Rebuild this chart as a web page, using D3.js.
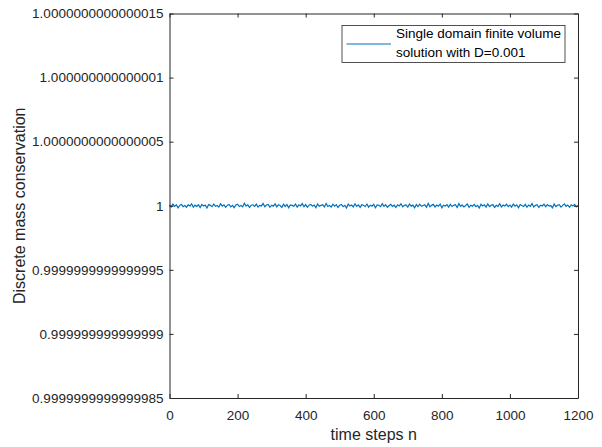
<!DOCTYPE html>
<html>
<head>
<meta charset="utf-8">
<script src="https://cdn.jsdelivr.net/npm/d3@7"></script>
<style>
  body { margin: 0; background: #fff; }
  svg { display: block; font-family: "Liberation Sans", Arial, Helvetica, sans-serif; }
</style>
</head>
<body>
<div id="chart"></div>
<script>
// time steps 0..1200 every 5 steps
const stepStart = 0;
const stepEvery = 5;
// deviation of discrete mass from 1, in units of 1.5e-17
const devUnit = 1.5e-17;
const massDev = [
  0.4,-0.6,0.9,-0.3,0.5,-1.1,0.2,0.8,-0.5,0.1,
  -0.8,0.6,-0.2,1.0,-0.7,0.3,-0.4,0.5,-0.9,0.7,
  -0.1,0.4,-1.2,0.6,0.2,-0.5,0.9,-0.3,0.1,-0.7,
  1.1,-0.2,0.5,-0.8,0.3,0.7,-0.6,0.2,-1.0,0.4,
  0.8,-0.4,0.1,-0.6,1.3,-0.2,0.6,-0.9,0.3,0.5,
  -0.3,0.9,-0.7,0.2,-0.1,1.2,-0.5,0.4,0.7,-0.8,
  0.3,-0.2,1.0,-0.6,0.5,0.1,-0.9,0.8,-0.4,0.6,
  -1.1,0.4,0.2,-0.3,0.9,-0.7,0.5,-0.1,1.1,-0.5,
  0.6,-0.8,0.3,0.7,-0.2,0.4,-1.0,0.9,-0.3,0.2,
  0.5,-0.6,1.2,-0.4,0.1,-0.7,0.8,-0.2,0.6,-0.9,
  0.3,0.7,-0.5,0.2,-1.2,0.9,-0.1,0.4,-0.6,1.0,
  -0.3,0.5,-0.8,0.6,0.1,-0.4,0.9,-0.7,0.3,-0.2,
  0.8,-1.0,0.4,0.2,-0.5,1.1,-0.3,0.6,-0.8,0.1,
  0.7,-0.4,0.3,-0.9,0.5,-0.1,1.0,-0.6,0.2,0.4,
  -0.7,0.9,-0.2,0.3,-1.1,0.6,-0.4,0.8,-0.3,0.1,
  0.5,-0.8,1.2,-0.5,0.2,0.7,-0.6,0.4,-0.2,0.9,
  -1.0,0.3,-0.1,0.6,-0.7,0.8,-0.4,0.2,0.5,-0.9,
  1.1,-0.3,0.4,-0.6,0.1,0.9,-0.8,0.3,-0.2,0.7,
  -0.5,0.2,-1.2,0.8,-0.1,0.5,-0.7,1.0,-0.4,0.3,
  0.6,-0.9,0.2,-0.3,1.1,-0.6,0.4,-0.1,0.8,-0.5,
  0.3,-0.7,0.9,-0.2,0.5,-1.0,0.6,0.1,-0.4,0.7,
  -0.8,0.4,-0.3,1.2,-0.6,0.2,0.5,-0.9,0.3,-0.1,
  0.8,-0.5,0.6,-0.2,0.1,-1.1,0.9,-0.4,0.3,0.6,
  -0.7,0.2,1.0,-0.3,0.4,-0.8,0.5,-0.1,0.7,-0.6,
  0.2
];

const xTicks = [0, 200, 400, 600, 800, 1000, 1200];
const yTickDevs = [-1.5e-15, -1e-15, -0.5e-15, 0, 0.5e-15, 1e-15, 1.5e-15];
const yTickLabels = ['0.9999999999999985', '0.999999999999999', '0.9999999999999995', '1',
                     '1.0000000000000005', '1.000000000000001', '1.0000000000000015'];
const seriesName = ['Single domain finite volume', 'solution with D=0.001'];

const width = 602, height = 447;
const plotLeft = 169.5, plotRight = 578, plotTop = 13.5, plotBottom = 398;
const axisColor = '#262626';
const lineColor = '#0072BD';

const data = massDev.map((d, i) => ({n: stepStart + i * stepEvery, dev: d * devUnit}));

const xScale = d3.scaleLinear().domain([0, 1200]).range([plotLeft, plotRight]);
const yScale = d3.scaleLinear().domain([-1.5e-15, 1.5e-15]).range([plotBottom, plotTop]);

const svg = d3.select('#chart').append('svg')
    .attr('width', width)
    .attr('height', height);

svg.append('rect').attr('width', width).attr('height', height).attr('fill', '#fff');

// the series
const line = d3.line().x(d => xScale(d.n)).y(d => yScale(d.dev));
svg.append('path')
    .datum(data)
    .attr('fill', 'none')
    .attr('stroke', lineColor)
    .attr('stroke-width', 1.2)
    .attr('d', line);

// axes (ticks inward, box on)
function styleAxis(g) {
  g.select('.domain').attr('stroke', axisColor);
  g.selectAll('.tick line').attr('stroke', axisColor);
  g.selectAll('.tick text').attr('fill', axisColor).attr('font-size', '13.5px');
  g.attr('font-family', null);
}

svg.append('g')
    .attr('transform', `translate(0, ${plotBottom})`)
    .call(d3.axisBottom(xScale).tickValues(xTicks).tickFormat(d3.format('d'))
          .tickSizeInner(-4).tickSizeOuter(0).tickPadding(12))
    .call(styleAxis);

svg.append('g')
    .attr('transform', `translate(0, ${plotTop})`)
    .call(d3.axisTop(xScale).tickValues(xTicks).tickSizeInner(-4).tickSizeOuter(0).tickFormat(''))
    .call(styleAxis);

svg.append('g')
    .attr('transform', `translate(${plotLeft}, 0)`)
    .call(d3.axisLeft(yScale).tickValues(yTickDevs).tickFormat((d, i) => yTickLabels[i])
          .tickSizeInner(-4).tickSizeOuter(0).tickPadding(6))
    .call(styleAxis);

svg.append('g')
    .attr('transform', `translate(${plotRight}, 0)`)
    .call(d3.axisRight(yScale).tickValues(yTickDevs).tickSizeInner(-4).tickSizeOuter(0).tickFormat(''))
    .call(styleAxis);

// axis labels
svg.append('text')
    .attr('x', (plotLeft + plotRight) / 2)
    .attr('y', 440)
    .attr('text-anchor', 'middle')
    .attr('font-size', '16px')
    .attr('fill', axisColor)
    .text('time steps n');

svg.append('text')
    .attr('transform', `translate(24.5, ${(plotTop + plotBottom) / 2}) rotate(-90)`)
    .attr('text-anchor', 'middle')
    .attr('font-size', '16px')
    .attr('fill', axisColor)
    .text('Discrete mass conservation');

// legend
const legend = svg.append('g');
legend.append('rect')
    .attr('x', 342).attr('y', 25.5)
    .attr('width', 223).attr('height', 37)
    .attr('fill', '#fff')
    .attr('stroke', axisColor)
    .attr('stroke-width', 0.8);
legend.append('line')
    .attr('x1', 346.5).attr('x2', 391)
    .attr('y1', 44).attr('y2', 44)
    .attr('stroke', lineColor)
    .attr('stroke-width', 1.2);
legend.selectAll('text.entry')
    .data(seriesName)
    .enter()
    .append('text')
      .attr('class', 'entry')
      .attr('x', 396)
      .attr('y', (d, i) => 38 + i * 18.5)
      .attr('font-size', '13.5px')
      .attr('fill', '#000')
      .text(d => d);
</script>
</body>
</html>
